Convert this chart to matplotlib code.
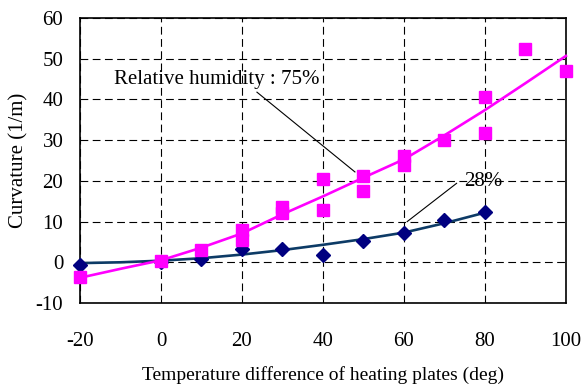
import matplotlib
matplotlib.use('Agg')
import matplotlib.pyplot as plt

plt.rcParams['font.family'] = ['Liberation Serif', 'DejaVu Serif']
plt.rcParams['font.size'] = 15
plt.rcParams['axes.unicode_minus'] = False

# measured curvature, RH 75%
temp_75 = [-20, 0, 10, 20, 20, 30, 30, 40, 40, 50, 50, 60, 60, 70, 80, 80, 90, 100]
curv_75 = [-3.6, 0.3, 3.0, 8.0, 5.5, 13.7, 12.1, 20.5, 12.9, 21.3, 17.4, 26.0, 24.0, 30.0, 40.6, 31.7, 52.3, 46.9]
# fitted curve, RH 75%
fit_t_75 = [-20, -10, 0, 10, 20, 30, 40, 50, 60, 70, 80, 90, 100]
fit_c_75 = [-3.8, -1.6, 0.5, 3.6, 7.1, 11.8, 16.2, 20.8, 25.3, 31.2, 37.4, 44.0, 50.7]

# measured curvature, RH 28%
temp_28 = [-20, 0, 10, 20, 30, 40, 50, 60, 70, 80]
curv_28 = [-0.6, 0.0, 0.8, 3.3, 3.3, 1.8, 5.3, 7.1, 10.4, 12.3]
# fitted curve, RH 28%
fit_t_28 = [-20, -10, 0, 10, 20, 30, 40, 50, 60, 70, 80]
fit_c_28 = [-0.2, 0.0, 0.4, 1.0, 1.9, 3.0, 4.3, 5.7, 7.3, 9.6, 12.2]

fig = plt.figure(figsize=(5.84, 3.85), dpi=100)
ax = fig.add_axes([0.137, 0.213, 0.832, 0.740])

ax.plot(fit_t_28, fit_c_28, color='#0d3b66', lw=1.9, zorder=3, clip_on=False)
ax.plot(temp_28, curv_28, ls='none', marker='D', ms=7, color='#000080', zorder=4, clip_on=False)
ax.plot(fit_t_75, fit_c_75, color='#ff00ff', lw=1.9, zorder=5, clip_on=False)
ax.plot(temp_75, curv_75, ls='none', marker='s', ms=8, color='#ff00ff', zorder=6, clip_on=False)

ax.set_xlim(-20, 100)
ax.set_ylim(-10, 60)
ax.set_xticks(range(-20, 101, 20))
ax.set_yticks(range(-10, 61, 10))
ax.grid(True, color='black', ls=(0, (7, 4)), lw=0.8)
ax.tick_params(axis='x', length=0, pad=21)
ax.tick_params(axis='y', length=0, pad=12)
for s in ax.spines.values():
    s.set_linewidth(1.2)

ax.set_xlabel('Temperature difference of heating plates (deg)', fontsize=14, labelpad=11)
ax.set_ylabel('Curvature (1/m)', fontsize=15, labelpad=5)

# leader lines and labels
ax.plot([23.7, 47.9], [41.8, 22.2], color='black', lw=0.8, zorder=7)
ax.text(-11.7, 45.0, 'Relative humidity : 75%', va='center', ha='left')
ax.plot([73.0, 60.8], [19.4, 10.0], color='black', lw=0.8, zorder=7)
ax.text(74.8, 19.8, '28%', va='center', ha='left')

fig.savefig('out.png', dpi=100)
